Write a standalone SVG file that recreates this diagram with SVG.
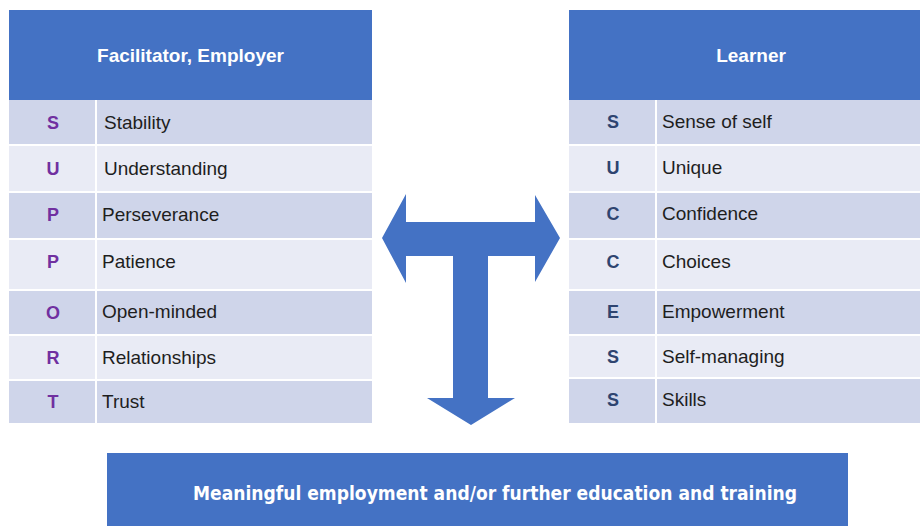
<svg xmlns="http://www.w3.org/2000/svg" width="920" height="526" viewBox="0 0 920 526">
  <style>
    .hdr { fill: #4472C4; }
    .dark { fill: #CFD5EA; }
    .light { fill: #E9EBF5; }
    .sep { stroke: #FFFFFF; stroke-width: 2; }
    .htxt { font-family: "Liberation Sans", Arial, sans-serif; font-weight: bold; font-size: 19px; fill: #FFFFFF; text-anchor: middle; }
    .ltr { font-family: "Liberation Sans", Arial, sans-serif; font-weight: bold; font-size: 18px; text-anchor: middle; }
    .ltr-l { fill: #7030A0; }
    .ltr-r { fill: #2E4470; }
    .item { font-family: "Liberation Sans", Arial, sans-serif; font-size: 19px; fill: #1E1E1E; }
    .btxt { font-family: "Liberation Sans Narrow", "DejaVu Sans Condensed", "Liberation Sans", sans-serif; font-weight: bold; font-size: 20px; fill: #FFFFFF; }
    .arrow { fill: #4472C4; }
  </style>

  <rect width="920" height="526" fill="#FFFFFF"/>

  <!-- SUPPORT table: facilitator / employer -->
  <g id="support-table">
    <rect class="hdr" x="9" y="10" width="363" height="90"/>
    <text class="htxt" x="190.5" y="62">Facilitator, Employer</text>
    <rect class="dark" x="9" y="100" width="363" height="45"/>
    <rect class="light" x="9" y="145" width="363" height="47"/>
    <rect class="dark" x="9" y="192" width="363" height="47"/>
    <rect class="light" x="9" y="239" width="363" height="51"/>
    <rect class="dark" x="9" y="290" width="363" height="45"/>
    <rect class="light" x="9" y="335" width="363" height="45"/>
    <rect class="dark" x="9" y="380" width="363" height="43"/>
    <g class="sep">
      <line x1="9" y1="145" x2="372" y2="145"/>
      <line x1="9" y1="192" x2="372" y2="192"/>
      <line x1="9" y1="239" x2="372" y2="239"/>
      <line x1="9" y1="290" x2="372" y2="290"/>
      <line x1="9" y1="335" x2="372" y2="335"/>
      <line x1="9" y1="380" x2="372" y2="380"/>
      <line x1="96" y1="100" x2="96" y2="423"/>
    </g>
    <g class="ltr ltr-l">
      <text x="53" y="129">S</text>
      <text x="53" y="175">U</text>
      <text x="53" y="221">P</text>
      <text x="53" y="268">P</text>
      <text x="53" y="319">O</text>
      <text x="53" y="364">R</text>
      <text x="53" y="408">T</text>
    </g>
    <g class="item">
      <text x="104" y="129">Stability</text>
      <text x="104" y="175">Understanding</text>
      <text x="102" y="221">Perseverance</text>
      <text x="102" y="268">Patience</text>
      <text x="102" y="318">Open-minded</text>
      <text x="102" y="364">Relationships</text>
      <text x="102" y="408">Trust</text>
    </g>
  </g>

  <!-- SUCCESS table: learner -->
  <g id="success-table">
    <rect class="hdr" x="569" y="10" width="363" height="90"/>
    <text class="htxt" x="751" y="62">Learner</text>
    <rect class="dark" x="569" y="100" width="363" height="45"/>
    <rect class="light" x="569" y="145" width="363" height="47"/>
    <rect class="dark" x="569" y="192" width="363" height="47"/>
    <rect class="light" x="569" y="239" width="363" height="51"/>
    <rect class="dark" x="569" y="290" width="363" height="45"/>
    <rect class="light" x="569" y="335" width="363" height="43"/>
    <rect class="dark" x="569" y="378" width="363" height="45"/>
    <g class="sep">
      <line x1="569" y1="145" x2="932" y2="145"/>
      <line x1="569" y1="192" x2="932" y2="192"/>
      <line x1="569" y1="239" x2="932" y2="239"/>
      <line x1="569" y1="290" x2="932" y2="290"/>
      <line x1="569" y1="335" x2="932" y2="335"/>
      <line x1="569" y1="378" x2="932" y2="378"/>
      <line x1="656" y1="100" x2="656" y2="423"/>
    </g>
    <g class="ltr ltr-r">
      <text x="613" y="128">S</text>
      <text x="613" y="174">U</text>
      <text x="613" y="220">C</text>
      <text x="613" y="268">C</text>
      <text x="613" y="318">E</text>
      <text x="613" y="363">S</text>
      <text x="613" y="406">S</text>
    </g>
    <g class="item">
      <text x="662" y="128">Sense of self</text>
      <text x="662" y="174">Unique</text>
      <text x="662" y="220">Confidence</text>
      <text x="662" y="268">Choices</text>
      <text x="662" y="318">Empowerment</text>
      <text x="662" y="363">Self-managing</text>
      <text x="662" y="406">Skills</text>
    </g>
  </g>

  <!-- T-shaped three-way arrow -->
  <g id="connectors">
    <path class="arrow" d="M382,238 L406,194 L406,222 L535,222 L535,195 L560,238 L535,282 L535,256 L488,256 L488,398 L515,398 L471,425 L427,398 L453,398 L453,256 L406,256 L406,283 Z"/>
  </g>

  <!-- Outcome box -->
  <g id="outcome">
    <rect class="hdr" x="107" y="453" width="741" height="73"/>
    <text class="btxt" x="193" y="500" textLength="604" lengthAdjust="spacingAndGlyphs">Meaningful employment and/or further education and training</text>
  </g>
</svg>
